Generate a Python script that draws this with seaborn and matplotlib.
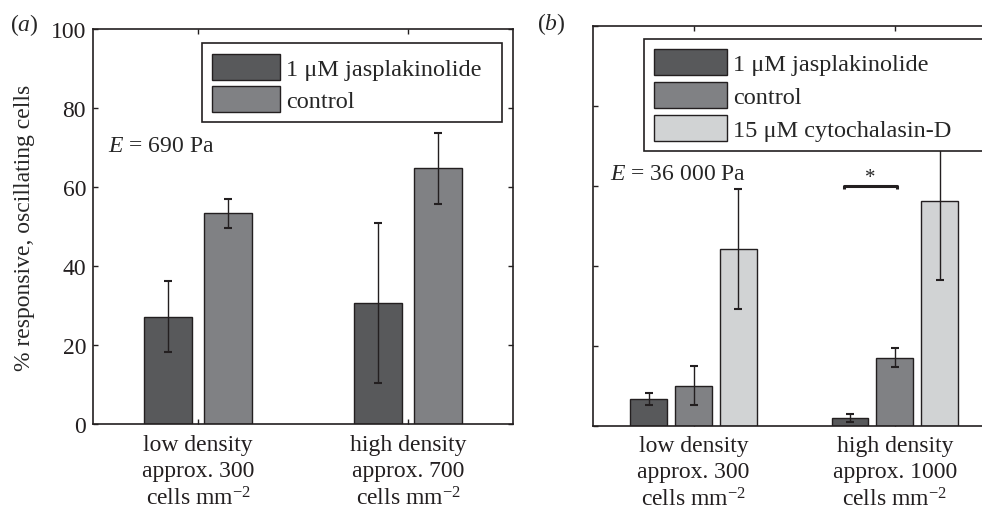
import matplotlib
matplotlib.use("Agg")
import matplotlib.pyplot as plt
from matplotlib.patches import Patch
import seaborn as sns
import pandas as pd

# ---------------- data ----------------
treatments_a = ["1 \u03bcM jasplakinolide", "control"]
treatments_b = ["1 \u03bcM jasplakinolide", "control", "15 \u03bcM cytochalasin-D"]
categories_a = ["low density\napprox. 300\ncells mm$^{-2}$",
                "high density\napprox. 700\ncells mm$^{-2}$"]
categories_b = ["low density\napprox. 300\ncells mm$^{-2}$",
                "high density\napprox. 1000\ncells mm$^{-2}$"]

jasp_a = [27.2, 30.7]
jasp_a_err = [9.0, 20.3]
control_a = [53.3, 64.7]
control_a_err = [3.7, 9.0]

jasp_b = [6.7, 1.9]
jasp_b_err = [1.6, 1.0]
control_b = [10.0, 17.0]
control_b_err = [4.9, 2.4]
cyto_b = [44.3, 56.3]
cyto_b_err = [15.0, 19.8]

yticks = [0, 20, 40, 60, 80, 100]
sig_y = 60
label_a = "$E$ = 690 Pa"
label_b = "$E$ = 36 000 Pa"

colors = ["#58595b", "#808184", "#d1d3d4"]
edge = "#231f20"

# ---------------- style ----------------
sns.set_style("ticks")
plt.rcParams["font.family"] = ["Liberation Serif", "DejaVu Serif"]
plt.rcParams["mathtext.fontset"] = "custom"
plt.rcParams["mathtext.rm"] = "Liberation Serif"
plt.rcParams["mathtext.it"] = "Liberation Serif:italic"
plt.rcParams["mathtext.bf"] = "Liberation Serif:bold"
FS = 17
LFS = 17.5

fig = plt.figure(figsize=(9.82, 5.10), dpi=100)
ax_a = fig.add_axes([93 / 982, 85 / 510, 420 / 982, 395 / 510])
ax_b = fig.add_axes([593 / 982, 83.3 / 510, 402.4 / 982, 399.7 / 510])


def make_df(cats, treatments, values):
    rows = []
    for t, vals in zip(treatments, values):
        for c, v in zip(cats, vals):
            rows.append({"density": c, "treatment": t, "value": v})
    return pd.DataFrame(rows)


def draw(ax, cats, treatments, values, errs, width, gap):
    df = make_df(cats, treatments, values)
    sns.barplot(data=df, x="density", y="value", hue="treatment",
                order=cats, hue_order=treatments,
                palette=colors[:len(treatments)], width=width, gap=gap,
                edgecolor=edge, linewidth=1.0, errorbar=None,
                legend=False, ax=ax, saturation=1)
    centers = []
    for cont, vals, es in zip(ax.containers, values, errs):
        xs = [b.get_x() + b.get_width() / 2 for b in cont]
        centers.append(xs)
        ax.errorbar(xs, vals, yerr=es, fmt="none", ecolor=edge,
                    elinewidth=1.0, capsize=3.2, capthick=1.5, zorder=3)
    ax.set_xlim(-0.5, 1.5)
    ax.set_ylim(0, 100)
    ax.set_yticks(yticks)
    ax.set_xlabel("")
    ax.set_ylabel("")
    for s in ax.spines.values():
        s.set_visible(True)
        s.set_linewidth(1.2)
        s.set_color(edge)
    ax.tick_params(direction="in", top=True, right=True, length=3.6,
                   width=1.0, color=edge, labelsize=FS, pad=5,
                   labelcolor="#231f20")
    ax.tick_params(axis="x", pad=7)
    for lab in ax.get_xticklabels():
        lab.set_linespacing(1.3)
    return centers


centers_a = draw(ax_a, categories_a, treatments_a, [jasp_a, control_a],
                 [jasp_a_err, control_a_err], width=0.571, gap=0.2)
centers_b = draw(ax_b, categories_b, treatments_b, [jasp_b, control_b, cyto_b],
                 [jasp_b_err, control_b_err, cyto_b_err], width=0.668, gap=0.18)
ax_b.tick_params(labelleft=False)

ax_a.set_ylabel("% responsive, oscillating cells", fontsize=FS)
ax_a.yaxis.set_label_coords(-0.138, 0.5)

# legends
handles_a = [Patch(facecolor=c, edgecolor=edge, linewidth=1.0) for c in colors[:2]]
leg_a = ax_a.legend(handles_a, treatments_a, loc="upper left",
                    bbox_to_anchor=(0.2595, 0, 0.7136, 0.9638), mode="expand",
                    borderaxespad=0,
                    fontsize=LFS, frameon=True, fancybox=False, framealpha=1,
                    edgecolor=edge, handlelength=2.8, handleheight=1.27,
                    handletextpad=0.25, labelspacing=0.24, borderpad=0.42)
leg_a.get_frame().set_linewidth(1.2)

handles_b = [Patch(facecolor=c, edgecolor=edge, linewidth=1.0) for c in colors]
leg_b = ax_b.legend(handles_b, treatments_b, loc="upper left",
                    bbox_to_anchor=(0.1275, 0, 0.86, 0.9675), mode="expand",
                    borderaxespad=0, fontsize=LFS, frameon=True, fancybox=False,
                    framealpha=1, edgecolor=edge, handlelength=3.0,
                    handleheight=1.31, handletextpad=0.25, labelspacing=0.26,
                    borderpad=0.4)
leg_b.get_frame().set_linewidth(1.2)

# annotations
ax_a.text(0.036, 0.7046, label_a, transform=ax_a.transAxes, fontsize=FS,
          ha="left", va="center")
ax_b.text(0.042, 0.632, label_b, transform=ax_b.transAxes, fontsize=FS,
          ha="left", va="center")

# significance bracket between jasplakinolide and control at high density
x0 = centers_b[0][1] - 0.03
x1 = centers_b[1][1] + 0.013
ax_b.plot([x0, x0, x1, x1], [sig_y - 0.8, sig_y, sig_y, sig_y - 0.8],
          color=edge, linewidth=2.2, solid_capstyle="butt", zorder=4)
ax_b.text((x0 + x1) / 2, sig_y - 0.2, "*", fontsize=15, ha="center",
          va="bottom")

fig.text(10 / 982, 1 - 25 / 510, "($a$)", fontsize=FS, ha="left", va="center")
fig.text(537 / 982, 1 - 24 / 510, "($b$)", fontsize=FS, ha="left", va="center")

fig.savefig("out.png", dpi=100)
